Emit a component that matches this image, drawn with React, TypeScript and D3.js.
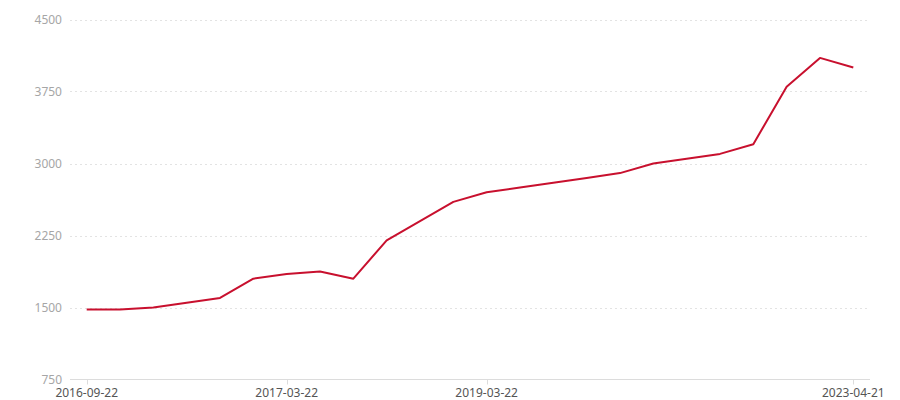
import React from "react";
import * as d3 from "d3";

const dates = [
  "2016-09-22", "2016-10-22", "2016-11-22", "2016-12-22", "2017-01-22", "2017-02-22",
  "2017-03-22", "2017-07-22", "2017-11-22", "2018-03-22", "2018-07-22", "2018-11-22",
  "2019-03-22", "2019-07-22", "2019-11-22", "2020-03-22", "2020-07-22", "2020-11-22",
  "2021-03-22", "2021-07-22", "2021-11-22", "2022-04-22", "2022-10-21", "2023-04-21",
];
const values = [
  1480, 1480, 1500, 1550, 1600, 1800,
  1850, 1875, 1800, 2200, 2400, 2600,
  2700, 2750, 2800, 2850, 2900, 3000,
  3050, 3100, 3200, 3800, 4100, 4000,
];
const shownLabels = ["2016-09-22", "2017-03-22", "2019-03-22", "2023-04-21"];
const yTicks = [750, 1500, 2250, 3000, 3750, 4500];

const W = 900;
const H = 400;
const left = 70;
const right = 870;
const top = 19.5;
const bottom = 379.5;

export default function App() {
  const x = d3.scalePoint<string>().domain(dates).range([86.7, 853.3]);
  const y = d3.scaleLinear().domain([750, 4500]).range([bottom, top]);
  const line = d3
    .line<number>()
    .x((_, i) => x(dates[i]) as number)
    .y((d) => y(d));

  return (
    <svg
      width={W}
      height={H}
      style={{ position: "absolute", left: 0, top: 0, display: "block" }}
      fontFamily="'Noto Sans', 'Open Sans', sans-serif"
    >
      {yTicks.map((t) => (
        <g key={t}>
          {t !== 750 && (
            <line
              x1={left}
              x2={right}
              y1={Math.round(y(t)) + 0.5}
              y2={Math.round(y(t)) + 0.5}
              stroke="#e3e3e3"
              strokeDasharray="2,3"
            />
          )}
          <text
            x={62}
            y={y(t)}
            dy="0.35em"
            textAnchor="end"
            fontSize={12}
            fill="#a6a6a6"
          >
            {t}
          </text>
        </g>
      ))}
      <line x1={left} x2={right} y1={bottom} y2={bottom} stroke="#dcdcdc" strokeWidth={1} />
      {shownLabels.map((d) => (
        <g key={d}>
          <line
            x1={Math.round(x(d) as number) + 0.5}
            x2={Math.round(x(d) as number) + 0.5}
            y1={bottom}
            y2={bottom + 5}
            stroke="#dcdcdc"
          />
          <text
            x={x(d) as number}
            y={396.5}
            textAnchor="middle"
            fontSize={12}
            fill="#555"
          >
            {d}
          </text>
        </g>
      ))}
      <path d={line(values) || ""} fill="none" stroke="#c8102e" strokeWidth={2} strokeLinejoin="round" />
    </svg>
  );
}
